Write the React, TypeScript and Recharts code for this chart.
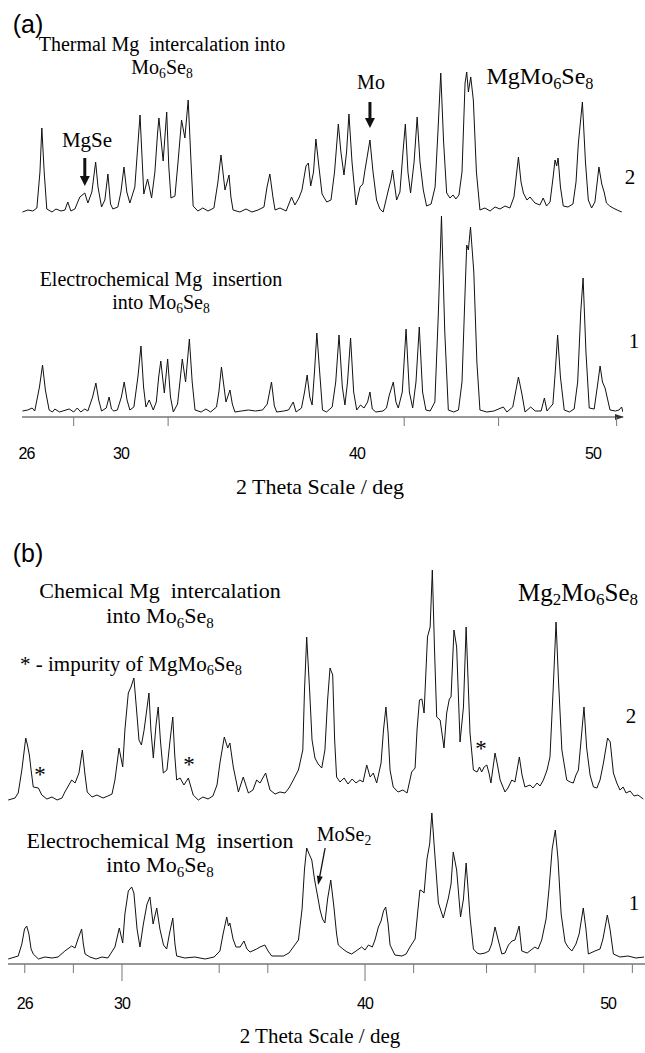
import React from 'react';
import { Line, LineChart, ReferenceDot, XAxis, YAxis } from 'recharts';

// (a) trace 2: thermal Mg intercalation into Mo6Se8
const thermalTheta = [
  25.83, 26.06, 26.27, 26.44, 26.57, 26.65, 26.75, 26.86, 27.08, 27.25, 27.46, 27.63, 27.75, 27.88, 28.05,
  28.26, 28.47, 28.6, 28.77, 28.93, 29.03, 29.18, 29.32, 29.45, 29.56, 29.66, 29.87, 30.0, 30.13, 30.25,
  30.38, 30.59, 30.81, 30.97, 31.13, 31.3, 31.44, 31.55, 31.61, 31.79, 31.94, 32.03, 32.12, 32.29, 32.42,
  32.57, 32.71, 32.85, 32.97, 33.06, 33.26, 33.47, 33.69, 33.94, 34.11, 34.24, 34.41, 34.58, 34.66, 34.75,
  35.04, 35.3, 35.55, 35.81, 36.06, 36.19, 36.31, 36.44, 36.53, 36.74, 37.0, 37.23, 37.37, 37.54, 37.67,
  37.84, 37.94, 38.04, 38.16, 38.26, 38.39, 38.52, 38.72, 38.9, 39.05, 39.21, 39.32, 39.45, 39.56, 39.66,
  39.79, 39.96, 40.13, 40.25, 40.34, 40.55, 40.68, 40.83, 40.97, 41.11, 41.33, 41.44, 41.51, 41.68, 41.82,
  41.95, 42.05, 42.16, 42.27, 42.42, 42.55, 42.67, 42.81, 42.95, 43.14, 43.31, 43.43, 43.55, 43.67, 43.8,
  43.94, 44.07, 44.19, 44.32, 44.45, 44.58, 44.65, 44.72, 44.82, 44.93, 45.06, 45.21, 45.42, 45.64, 45.85,
  46.06, 46.27, 46.48, 46.65, 46.84, 46.95, 47.05, 47.2, 47.33, 47.54, 47.75, 47.89, 48.03, 48.18, 48.31,
  48.39, 48.46, 48.52, 48.62, 48.74, 48.94, 49.15, 49.28, 49.38, 49.55, 49.68, 49.8, 49.94, 50.08, 50.25,
  50.37, 50.47, 50.57, 50.71, 50.85, 51.02, 51.22,
];
const thermalCounts = [
  0, 2, 1, 4, 40, 84, 40, 3, 0, 3, 1, 2, 10, 1, 3,
  15, 19, 9, 20, 50, 25, 5, 12, 38, 8, 3, 5, 20, 45, 20,
  9, 25, 97, 18, 33, 14, 40, 78, 94, 51, 100, 45, 14, 16, 50,
  92, 74, 112, 50, 6, 1, 4, 1, 4, 30, 57, 22, 37, 15, 2,
  0, 3, 0, 2, 5, 25, 38, 15, 2, 4, 1, 15, 7, 14, 22,
  46, 49, 26, 40, 73, 45, 18, 10, 12, 40, 88, 60, 37, 60, 98,
  50, 7, 25, 28, 42, 72, 40, 12, 3, 0, 22, 32, 42, 12, 20,
  60, 88, 40, 19, 50, 95, 50, 22, 6, 8, 25, 80, 139, 70, 19,
  14, 17, 13, 17, 40, 129, 140, 120, 135, 112, 40, 2, 4, 1, 5,
  3, 6, 4, 15, 55, 30, 19, 12, 15, 9, 7, 14, 6, 10, 35,
  52, 46, 54, 25, 6, 5, 8, 30, 69, 110, 50, 12, 4, 10, 45,
  28, 20, 9, 6, 4, 2, 0,
];

// (a) trace 1: electrochemical Mg insertion
const echemATheta = [
  25.83, 26.05, 26.24, 26.35, 26.55, 26.68, 26.8, 26.96, 27.1, 27.2, 27.4, 27.81, 28.0, 28.15, 28.3,
  28.47, 28.6, 28.8, 28.94, 29.06, 29.18, 29.38, 29.5, 29.6, 29.7, 29.85, 30.02, 30.14, 30.26, 30.38,
  30.55, 30.72, 30.85, 30.96, 31.06, 31.2, 31.37, 31.5, 31.6, 31.69, 31.84, 31.98, 32.1, 32.22, 32.4,
  32.5, 32.6, 32.74, 32.9, 33.02, 33.14, 33.4, 33.6, 33.8, 34.05, 34.15, 34.26, 34.45, 34.62, 34.72,
  34.83, 35.1, 35.4, 35.7, 36.0, 36.2, 36.38, 36.5, 36.6, 36.9, 37.1, 37.3, 37.42, 37.65, 37.78,
  37.89, 38.0, 38.1, 38.2, 38.3, 38.42, 38.54, 38.71, 38.95, 39.1, 39.24, 39.38, 39.49, 39.6, 39.73,
  39.86, 39.99, 40.15, 40.3, 40.45, 40.55, 40.65, 40.8, 41.1, 41.25, 41.37, 41.54, 41.65, 41.75, 41.92,
  42.08, 42.22, 42.36, 42.5, 42.64, 42.78, 42.92, 43.1, 43.3, 43.45, 43.58, 43.72, 43.87, 44.1, 44.3,
  44.45, 44.58, 44.65, 44.72, 44.81, 44.95, 45.08, 45.21, 45.5, 45.8, 46.2, 46.35, 46.6, 46.72, 46.84,
  46.98, 47.12, 47.36, 47.55, 47.8, 47.94, 48.05, 48.3, 48.4, 48.5, 48.62, 48.78, 49.0, 49.2, 49.35,
  49.48, 49.58, 49.7, 49.84, 50.05, 50.18, 50.3, 50.4, 50.51, 50.72, 50.95, 51.1, 51.21, 51.27,
];
const echemACounts = [
  1, 2, 4, 1, 25, 47, 22, 2, 0, 3, 0, 3, 0, 4, 0,
  3, 1, 15, 29, 12, 1, 4, 15, 3, 1, 2, 15, 30, 12, 2,
  5, 35, 66, 25, 5, 12, 2, 10, 35, 51, 19, 53, 15, 0, 8,
  30, 53, 30, 73, 30, 2, 0, 3, 0, 5, 20, 45, 10, 22, 8,
  0, 1, 2, 1, 2, 8, 30, 6, 0, 1, 2, 10, 0, 4, 20,
  37, 15, 7, 40, 79, 40, 2, 0, 5, 30, 77, 25, 7, 30, 74,
  20, 2, 7, 4, 10, 20, 3, 0, 1, 4, 17, 30, 10, 4, 20,
  83, 20, 4, 30, 85, 20, 2, 1, 10, 100, 196, 80, 2, 0, 2,
  30, 120, 167, 162, 185, 140, 50, 2, 0, 1, 5, 0, 5, 20, 35,
  19, 0, 5, 1, 1, 14, 1, 8, 40, 77, 35, 2, 0, 3, 30,
  100, 134, 60, 4, 3, 25, 46, 30, 24, 2, 1, 2, 5, 0,
];

// (b) trace 2: chemical Mg intercalation
const chemTheta = [
  25.32, 25.6, 25.73, 25.88, 26.04, 26.11, 26.19, 26.26, 26.35, 26.56, 26.7, 26.91, 27.12, 27.33, 27.53,
  27.65, 27.93, 28.07, 28.23, 28.37, 28.48, 28.57, 28.77, 28.97, 29.22, 29.42, 29.59, 29.71, 29.88, 30.03,
  30.12, 30.26, 30.37, 30.49, 30.6, 30.7, 30.8, 30.91, 31.11, 31.19, 31.29, 31.4, 31.49, 31.58, 31.7,
  31.85, 31.98, 32.09, 32.17, 32.25, 32.39, 32.55, 32.73, 32.93, 33.14, 33.33, 33.54, 33.74, 33.91, 34.03,
  34.21, 34.35, 34.44, 34.58, 34.79, 34.99, 35.2, 35.39, 35.54, 35.68, 35.91, 36.09, 36.3, 36.5, 36.71,
  36.87, 37.05, 37.26, 37.44, 37.51, 37.6, 37.72, 37.82, 37.94, 38.07, 38.22, 38.35, 38.46, 38.56, 38.67,
  38.75, 38.83, 38.97, 39.14, 39.3, 39.47, 39.63, 39.79, 39.92, 40.07, 40.21, 40.34, 40.48, 40.66, 40.76,
  40.86, 40.95, 41.03, 41.16, 41.36, 41.56, 41.73, 41.92, 42.06, 42.14, 42.24, 42.34, 42.43, 42.57, 42.68,
  42.77, 42.86, 42.95, 43.09, 43.25, 43.36, 43.47, 43.54, 43.66, 43.77, 43.91, 44.05, 44.16, 44.24, 44.32,
  44.46, 44.61, 44.71, 44.8, 44.9, 45.01, 45.1, 45.18, 45.35, 45.45, 45.56, 45.76, 45.88, 46.04, 46.17,
  46.35, 46.46, 46.58, 46.79, 46.91, 47.08, 47.2, 47.34, 47.49, 47.61, 47.74, 47.86, 47.96, 48.1, 48.3,
  48.44, 48.57, 48.68, 48.78, 48.89, 49.01, 49.12, 49.26, 49.4, 49.54, 49.67, 49.81, 49.98, 50.09, 50.22,
  50.36, 50.49, 50.62, 50.74, 50.91, 51.07, 51.23, 51.45,
];
const chemCounts = [
  0, 2, 7, 30, 62, 55, 45, 30, 13, 12, 5, 1, 3, 0, 2,
  8, 20, 17, 27, 50, 25, 8, 3, 5, 2, 4, 6, 20, 52, 33,
  70, 107, 113, 122, 90, 60, 55, 70, 107, 70, 42, 75, 93, 60, 27,
  30, 60, 83, 45, 20, 22, 15, 22, 5, 0, 3, 1, 4, 15, 37,
  63, 52, 57, 33, 8, 23, 7, 10, 20, 17, 27, 10, 6, 8, 7,
  12, 20, 30, 50, 110, 163, 110, 60, 42, 36, 32, 50, 100, 132, 125,
  60, 23, 18, 22, 16, 21, 17, 20, 18, 35, 23, 27, 17, 37, 70,
  93, 67, 30, 13, 8, 10, 7, 28, 32, 70, 100, 101, 87, 163, 173,
  230, 150, 83, 80, 52, 87, 101, 103, 170, 153, 58, 93, 173, 120, 67,
  30, 28, 33, 28, 33, 35, 27, 17, 47, 35, 20, 8, 12, 20, 18,
  43, 25, 13, 15, 12, 17, 14, 20, 30, 43, 110, 178, 120, 50, 20,
  18, 17, 25, 30, 60, 93, 52, 25, 13, 12, 20, 37, 62, 58, 27,
  17, 10, 13, 7, 9, 4, 5, 1,
];

// (b) trace 1: electrochemical Mg insertion
const echemBTheta = [
  25.32, 25.73, 25.88, 25.99, 26.08, 26.17, 26.26, 26.35, 26.56, 26.83, 27.12, 27.37, 27.65, 27.93, 28.07,
  28.19, 28.34, 28.41, 28.48, 28.68, 28.93, 29.18, 29.42, 29.71, 29.89, 30.03, 30.12, 30.26, 30.4, 30.49,
  30.62, 30.74, 30.88, 31.03, 31.15, 31.28, 31.43, 31.56, 31.71, 31.84, 31.95, 32.09, 32.18, 32.25, 32.59,
  33.0, 33.42, 33.79, 34.03, 34.16, 34.31, 34.38, 34.44, 34.57, 34.69, 34.86, 35.02, 35.14, 35.27, 35.54,
  35.68, 35.88, 36.01, 36.16, 36.64, 36.87, 37.05, 37.26, 37.41, 37.51, 37.6, 37.7, 37.81, 37.92, 38.07,
  38.15, 38.25, 38.35, 38.46, 38.59, 38.72, 38.83, 38.9, 39.09, 39.26, 39.45, 39.63, 39.86, 40.0, 40.14,
  40.3, 40.41, 40.55, 40.66, 40.76, 40.85, 40.95, 41.03, 41.23, 41.52, 41.69, 41.85, 42.06, 42.18, 42.26,
  42.35, 42.43, 42.55, 42.66, 42.75, 42.88, 43.02, 43.22, 43.43, 43.54, 43.63, 43.77, 43.93, 44.05, 44.16,
  44.24, 44.32, 44.46, 44.61, 44.73, 44.94, 45.1, 45.21, 45.35, 45.47, 45.63, 45.76, 45.9, 46.05, 46.17,
  46.34, 46.45, 46.67, 46.83, 46.99, 47.12, 47.27, 47.45, 47.57, 47.7, 47.83, 47.94, 48.07, 48.23, 48.35,
  48.51, 48.68, 48.81, 48.98, 49.09, 49.19, 49.46, 49.67, 49.79, 49.97, 50.08, 50.22, 50.49, 50.82, 51.15,
  51.48,
];
const echemBCounts = [
  0, 3, 15, 30, 33, 25, 10, 5, 0, 2, 1, 2, 8, 13, 11,
  20, 30, 15, 5, 2, 0, 2, 1, 12, 31, 16, 45, 68, 72, 66,
  30, 12, 35, 55, 62, 35, 51, 30, 14, 10, 25, 41, 15, 3, 1,
  2, 0, 2, 8, 25, 42, 33, 36, 20, 12, 12, 18, 10, 7, 10,
  12, 14, 8, 3, 3, 6, 12, 19, 50, 90, 111, 105, 99, 80, 60,
  49, 40, 36, 60, 79, 52, 25, 14, 10, 7, 5, 8, 12, 9, 14,
  12, 19, 32, 38, 48, 52, 35, 14, 4, 3, 5, 12, 20, 50, 69,
  68, 66, 100, 115, 146, 102, 56, 41, 61, 75, 107, 89, 42, 60, 96,
  70, 42, 10, 6, 5, 6, 8, 15, 32, 20, 5, 6, 14, 18, 19,
  33, 8, 6, 9, 12, 10, 19, 40, 70, 110, 129, 100, 45, 17, 12,
  8, 15, 25, 51, 30, 5, 8, 10, 20, 44, 30, 5, 2, 3, 1,
  2,
];

// axis ticks and labels
const tickMarksA = [28, 32, 42, 46, 51];
const tickMarksB = [26, 28, 30, 34, 36, 40, 42, 45, 47, 49, 51];
const longTicksB = [30, 40];
const tickLabels = [26, 30, 40, 50];

const OFFSET_A = 200;
const OFFSET_B = 159;

const toRows = (theta: number[], counts: number[], shift: number) =>
  theta.map((t, i) => ({ theta: t, counts: counts[i] + shift }));

const serif = '"Liberation Serif", "Times New Roman", serif';
const sans = '"Liberation Sans", Arial, sans-serif';

const Sub = ({ children }: { children: React.ReactNode }) => (
  <span style={{ fontSize: '0.68em', verticalAlign: '-0.28em' }}>{children}</span>
);

const Note = ({
  x,
  y,
  size = 17,
  font = serif,
  children,
}: {
  x: number;
  y: number;
  size?: number;
  font?: string;
  children: React.ReactNode;
}) => (
  <div
    style={{
      position: 'absolute',
      left: x,
      top: y,
      transform: 'translate(-50%, -50%)',
      fontFamily: font,
      fontSize: size,
      lineHeight: 1,
      whiteSpace: 'nowrap',
      color: '#000',
    }}
  >
    {children}
  </div>
);

const makeTick =
  (marks: number[], longMarks: number[], labelDy: number) =>
  (props: any) => {
    const { x, y, payload } = props;
    const v = payload.value;
    return (
      <g>
        {marks.includes(v) && (
          <line
            x1={x}
            x2={x}
            y1={y}
            y2={y + (longMarks.includes(v) ? 17 : 9)}
            stroke="#777"
            strokeWidth={1}
          />
        )}
        {tickLabels.includes(v) && (
          <text
            x={x}
            y={y + labelDy}
            textAnchor="middle"
            dominantBaseline="central"
            fontFamily={'"Liberation Sans Narrow", ' + sans}
            fontSize={16}
            fontWeight={500}
            letterSpacing={-1}
            fill="#000"
          >
            {v}
          </text>
        )}
      </g>
    );
  };

// down-pointing annotation arrow ending at the anchor point
const DownArrow = ({ cx, cy, len, dx = 0, thin = false }: any) => {
  const L = Math.hypot(dx, len);
  const ux = -dx / L;
  const uy = len / L;
  const head = thin ? 9 : 10;
  const half = thin ? 3 : 5;
  const bx = cx - ux * head;
  const by = cy - uy * head;
  return (
    <g>
      <line
        x1={cx + dx}
        y1={cy - len}
        x2={bx}
        y2={by}
        stroke="#111"
        strokeWidth={thin ? 1.3 : 3}
      />
      <polygon
        points={`${cx},${cy} ${bx - uy * half},${by + ux * half} ${bx + uy * half},${by - ux * half}`}
        fill="#111"
      />
    </g>
  );
};

const AxisHead = ({ cx, cy }: any) => (
  <polygon points={`${cx + 1},${cy} ${cx - 8},${cy - 3} ${cx - 8},${cy + 3}`} fill="#333" />
);

const lineProps = {
  type: 'linear' as const,
  dataKey: 'counts',
  stroke: '#111',
  strokeWidth: 1,
  dot: false,
  isAnimationActive: false,
};

const App = () => {
  const a2 = toRows(thermalTheta, thermalCounts, OFFSET_A);
  const a1 = toRows(echemATheta, echemACounts, 0);
  const b2 = toRows(chemTheta, chemCounts, OFFSET_B);
  const b1 = toRows(echemBTheta, echemBCounts, 0);
  const ticksA = [...new Set([...tickMarksA, ...tickLabels])].sort((p, q) => p - q);
  const ticksB = [...new Set([...tickMarksB, ...tickLabels])].sort((p, q) => p - q);

  return (
    <div
      style={{
        position: 'absolute',
        left: 0,
        top: 0,
        width: 645,
        height: 1053,
        background: '#fff',
        overflow: 'hidden',
      }}
    >
      {/* panel (a) */}
      <div style={{ position: 'absolute', left: 0, top: 0 }}>
        <LineChart width={645} height={500} margin={{ top: 60, right: 22, bottom: 53, left: 22 }}>
          <XAxis
            type="number"
            dataKey="theta"
            domain={[25.81, 51.27]}
            allowDataOverflow
            ticks={ticksA}
            interval={0}
            height={30}
            tickLine={false}
            tickSize={0}
            tickMargin={0}
            axisLine={{ stroke: '#333', strokeWidth: 1 }}
            tick={makeTick(tickMarksA, [], 36)}
          />
          <YAxis type="number" domain={[-5, 352]} hide allowDataOverflow />
          <Line {...lineProps} data={a2} />
          <Line {...lineProps} data={a1} />
          <ReferenceDot x={28.47} y={OFFSET_A + 26} shape={(p: any) => <DownArrow {...p} len={28} />} />
          <ReferenceDot x={40.55} y={OFFSET_A + 84} shape={(p: any) => <DownArrow {...p} len={26} />} />
          <ReferenceDot x={51.27} y={-5} ifOverflow="visible" shape={(p: any) => <AxisHead {...p} />} />
        </LineChart>
      </div>

      {/* panel (b) */}
      <div style={{ position: 'absolute', left: 0, top: 520 }}>
        <LineChart width={645} height={533} margin={{ top: 40, right: 0, bottom: 59, left: 8 }}>
          <XAxis
            type="number"
            dataKey="theta"
            domain={[25.31, 51.52]}
            allowDataOverflow
            ticks={ticksB}
            interval={0}
            height={30}
            tickLine={false}
            tickSize={0}
            tickMargin={0}
            axisLine={{ stroke: '#333', strokeWidth: 1 }}
            tick={makeTick(tickMarksB, longTicksB, 39)}
          />
          <YAxis type="number" domain={[-5, 399]} hide allowDataOverflow />
          <Line {...lineProps} data={b2} />
          <Line {...lineProps} data={b1} />
          <ReferenceDot
            x={38.07}
            y={74}
            shape={(p: any) => <DownArrow {...p} len={37} dx={7} thin />}
          />
        </LineChart>
      </div>

      {/* panel (a) text */}
      <Note x={28} y={24} size={25} font={sans}>(a)</Note>
      <Note x={162} y={44} size={20}>Thermal Mg&nbsp; intercalation into</Note>
      <Note x={162} y={69} size={20}>
        Mo<Sub>6</Sub>Se<Sub>8</Sub>
      </Note>
      <Note x={87} y={140} size={21}>MgSe</Note>
      <Note x={371} y={82} size={20}>Mo</Note>
      <Note x={540} y={78} size={24}>
        MgMo<Sub>6</Sub>Se<Sub>8</Sub>
      </Note>
      <Note x={630} y={177} size={21}>2</Note>
      <Note x={161} y={279} size={20}>Electrochemical Mg&nbsp; insertion</Note>
      <Note x={161} y={304} size={20}>
        into Mo<Sub>6</Sub>Se<Sub>8</Sub>
      </Note>
      <Note x={634} y={341} size={21}>1</Note>
      <Note x={320} y={487} size={22}>2 Theta Scale / deg</Note>

      {/* panel (b) text */}
      <Note x={28} y={553} size={25} font={sans}>(b)</Note>
      <Note x={160} y={591} size={22}>Chemical Mg&nbsp; intercalation</Note>
      <Note x={160} y={618} size={22}>
        into Mo<Sub>6</Sub>Se<Sub>8</Sub>
      </Note>
      <Note x={131} y={666} size={21}>
        * - impurity of MgMo<Sub>6</Sub>Se<Sub>8</Sub>
      </Note>
      <Note x={578} y={594} size={25}>
        Mg<Sub>2</Sub>Mo<Sub>6</Sub>Se<Sub>8</Sub>
      </Note>
      <Note x={631} y={716} size={21}>2</Note>
      <Note x={40} y={774} size={23}>*</Note>
      <Note x={189} y={764} size={23}>*</Note>
      <Note x={481} y={748} size={23}>*</Note>
      <Note x={160} y={841} size={22}>Electrochemical Mg&nbsp; insertion</Note>
      <Note x={160} y={867} size={22}>
        into Mo<Sub>6</Sub>Se<Sub>8</Sub>
      </Note>
      <Note x={344} y={836} size={20}>
        MoSe<Sub>2</Sub>
      </Note>
      <Note x={634} y={903} size={21}>1</Note>
      <Note x={320} y={1036} size={21}>2 Theta Scale / deg</Note>
    </div>
  );
};

export default App;
